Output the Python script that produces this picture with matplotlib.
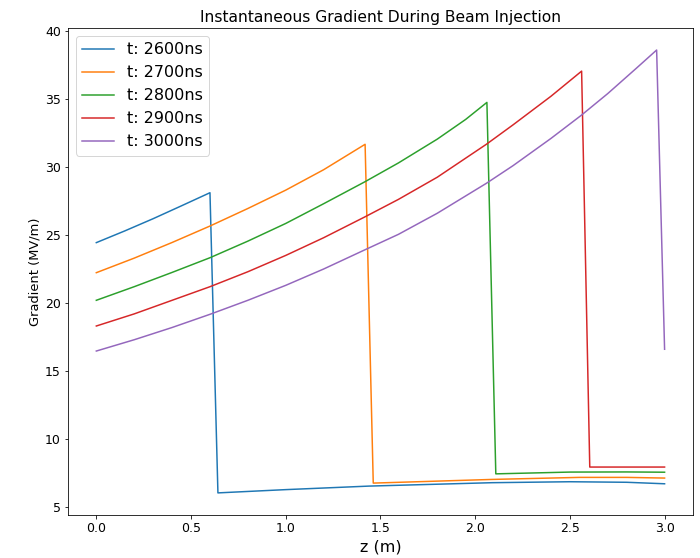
import numpy as np
import matplotlib
matplotlib.use("Agg")
import matplotlib.pyplot as plt

# gradient profiles along the structure at several times after injection
times = [2600, 2700, 2800, 2900, 3000]

z_2600 = [0.0, 0.15, 0.3, 0.45, 0.6, 0.642, 1.0, 1.44, 2.09, 2.5, 2.8, 3.0]
g_2600 = [24.44, 25.3, 26.2, 27.15, 28.11, 6.04, 6.28, 6.54, 6.79, 6.86, 6.82, 6.71]

z_2700 = [0.0, 0.2, 0.4, 0.6, 0.8, 1.0, 1.2, 1.419, 1.462, 2.09, 2.55, 2.8, 3.0]
g_2700 = [22.23, 23.3, 24.45, 25.66, 26.95, 28.3, 29.8, 31.67, 6.76, 7.03, 7.18, 7.18, 7.13]

z_2800 = [0.0, 0.2, 0.4, 0.6, 0.8, 1.0, 1.2, 1.416, 1.595, 1.8, 1.95, 2.062,
          2.109, 2.5, 2.8, 3.0]
g_2800 = [20.2, 21.2, 22.25, 23.33, 24.55, 25.85, 27.3, 28.9, 30.3, 32.05, 33.5, 34.75,
          7.44, 7.57, 7.58, 7.56]

z_2900 = [0.0, 0.2, 0.4, 0.6, 0.8, 1.0, 1.2, 1.416, 1.595, 1.8, 2.059, 2.2, 2.4,
          2.562, 2.605, 3.0]
g_2900 = [18.31, 19.2, 20.2, 21.2, 22.3, 23.5, 24.8, 26.32, 27.62, 29.25, 31.67, 33.1, 35.2,
          37.05, 7.94, 7.94]

z_3000 = [0.0, 0.2, 0.4, 0.6, 0.8, 1.0, 1.2, 1.416, 1.595, 1.8, 2.059, 2.2, 2.4,
          2.56, 2.7, 2.85, 2.958, 3.0]
g_3000 = [16.47, 17.3, 18.2, 19.17, 20.2, 21.3, 22.5, 23.9, 25.05, 26.6, 28.8, 30.1, 32.1,
          33.8, 35.4, 37.25, 38.6, 16.6]

profiles = [(z_2600, g_2600), (z_2700, g_2700), (z_2800, g_2800),
            (z_2900, g_2900), (z_3000, g_3000)]

fig = plt.figure(figsize=(700 / 72, 558 / 72), dpi=72)
ax = fig.add_axes([0.097, 0.077, 0.893, 0.873])

for t, (z, g) in zip(times, profiles):
    ax.plot(z, g, label='t: {0}ns'.format(t))

ax.tick_params(labelsize=12.5)
ax.set_title('Instantaneous Gradient During Beam Injection', fontsize=15.5)
ax.set_xlabel('z (m)', fontsize=16)
ax.set_ylabel('Gradient (MV/m)', fontsize=13)
ax.legend(loc='upper left', fontsize=16)

fig.savefig('out.png', dpi=72)
